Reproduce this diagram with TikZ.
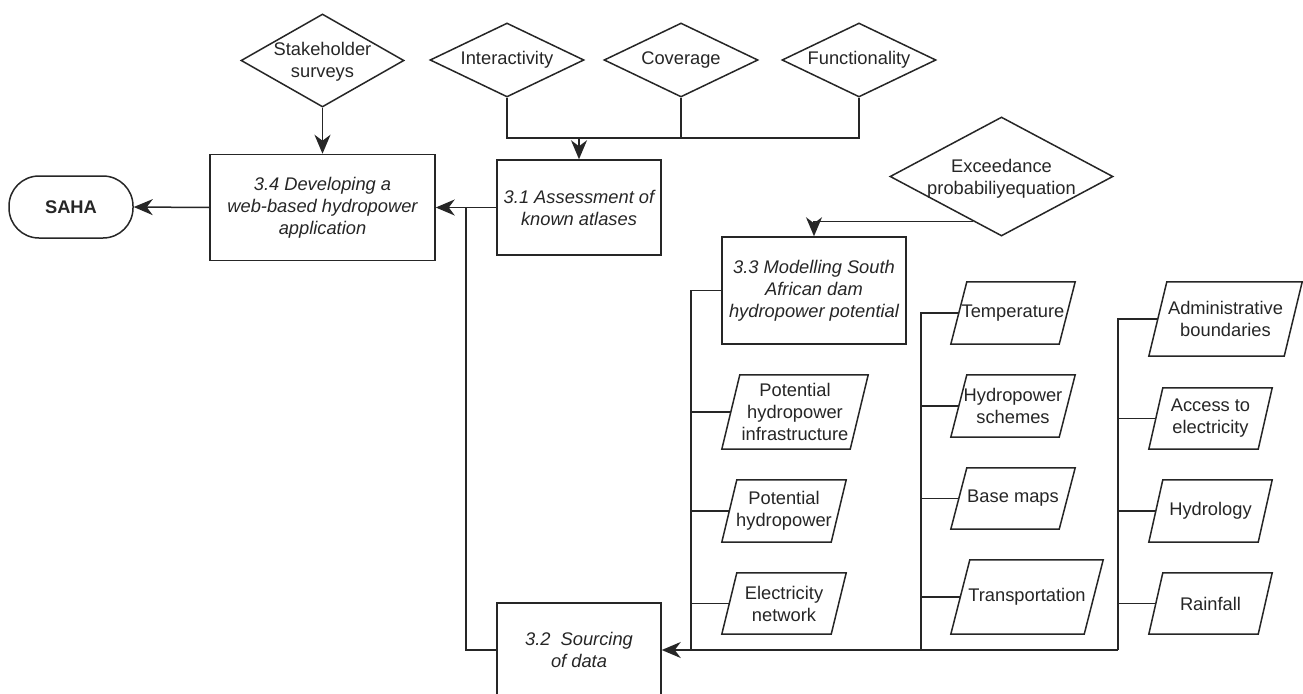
\documentclass[tikz,border=0pt]{standalone}
\usepackage{fontspec}
\setmainfont{Liberation Sans}
\usetikzlibrary{shapes.geometric,arrows.meta,calc}
\colorlet{ink}{black!85}
\tikzset{
  base/.style={font=\fontsize{18.3}{22}\selectfont, text=ink, align=center, inner sep=0pt},
  procbox/.style={base, draw=ink, line width=1.5pt, rectangle, font=\fontsize{18.3}{22}\selectfont\itshape},
  term/.style={base, draw=ink, line width=1.5pt, rectangle, rounded corners=30pt, minimum width=124, minimum height=62},
  dia/.style={diamond, draw=ink, line width=1.5pt, inner sep=0pt},
  paratext/.style={base},
  shapeline/.style={draw=ink, line width=1.5pt, line join=miter},
  conn/.style={draw=ink, line width=1.5pt},
  arr/.style={conn, -{Stealth[length=19pt,width=16pt,inset=6pt]}}
}
\newcommand{\paranode}[7]{%
  \node[paratext, minimum width=#4, minimum height=#5] (#1) at (#2,#3) {#7};
  \draw[shapeline] ([xshift=-#6pt/2]#1.south west) -- ([xshift=#6pt/2]#1.north west) -- ([xshift=#6pt/2]#1.north east) -- ([xshift=-#6pt/2]#1.south east) -- cycle;}
\begin{document}
\begin{tikzpicture}[x=1pt,y=-1pt]
\fill[white] (0,0) rectangle (1303,693);
\useasboundingbox (0,0) rectangle (1303,693);

% process boxes
\node[term] (saha) at (71,207) {\bfseries SAHA};
\node[procbox, minimum width=225, minimum height=106] (a34) at (322.5,207.5) {3.4 Developing a\\web-based hydropower\\application};
\node[procbox, minimum width=164, minimum height=95] (a31) at (579,207.5) {3.1 Assessment of\\known atlases};
\node[procbox, minimum width=164, minimum height=94] (a32) at (579,650) {3.2\ \ Sourcing\\of data};
\node[procbox, minimum width=184, minimum height=107] (a33) at (814,290.5) {3.3 Modelling South\\African dam\\hydropower potential};

% diamonds
\node[dia, minimum width=163, minimum height=93] (stk) at (322.5,60.5) {};
\node[base] (stkt) at (322.5,62) {Stakeholder\\surveys};
\node[dia, minimum width=154, minimum height=74] (int) at (507,60) {};
\node[base] (intt) at (int) {Interactivity};
\node[dia, minimum width=154, minimum height=74] (cov) at (681,60) {};
\node[base] (covt) at (cov) {Coverage};
\node[dia, minimum width=154, minimum height=74] (fun) at (859,60) {};
\node[base] (funt) at (fun) {Functionality};
\node[dia, minimum width=223, minimum height=119] (exc) at (1001.5,176.5) {};
\node[base] (exct) at (1001.5,178.5) {Exceedance\\probabiliyequation};

% data parallelograms
\paranode{phi}{795}{412}{128}{74}{18}{Potential\\hydropower\\infrastructure}
\paranode{ph}{784}{511}{109}{62}{15}{Potential\\hydropower}
\paranode{en}{784}{603.5}{109}{61}{15}{Electricity\\network}
\paranode{tem}{1013}{313}{108}{62}{16}{Temperature}
\paranode{hs}{1013}{406}{108}{62}{16}{Hydropower\\schemes}
\paranode{bm}{1013}{498.5}{108}{61}{16}{Base maps}
\paranode{tr}{1027}{597}{133}{74}{19}{Transportation}
\paranode{adm}{1225.5}{319}{135}{74}{18}{Administrative\\boundaries}
\paranode{acc}{1210.5}{418.5}{109}{61}{14}{Access to\\electricity}
\paranode{hyd}{1210.5}{511}{109}{62}{14}{Hydrology}
\paranode{rain}{1210.5}{603.5}{109}{61}{14}{Rainfall}

% connectors
\coordinate (j) at (579,138);
\draw[conn] (int.south) |- (j) -| (fun.south);
\draw[conn] (cov.south) -- (cov.south |- j);
\draw[arr] (j) -- (a31.north);
\draw[arr] (stk.south) -- (a34.north);
\draw[arr] (a34.west) -- (saha.east);
\draw[arr] (a31.west) -- (a34.east);
\coordinate (k) at (466,207.5);
\draw[conn] (a32.west) -| (k);
\draw[arr] ($(exc.west)!0.75!(exc.south)$) -| (a33.north);

\coordinate (b1) at (691,650);
\coordinate (b2) at (921,650);
\coordinate (b3) at (1118,650);
\draw[arr] (b3) -- (a32.east);
\draw[conn] (a33.west) -| (b1);
\draw[conn] (phi.west) -- (phi.west -| b1);
\draw[conn] (ph.west) -- (ph.west -| b1);
\draw[conn] (en.west) -- (en.west -| b1);
\draw[conn] (tem.west) -| (b2);
\draw[conn] (hs.west) -- (hs.west -| b2);
\draw[conn] (bm.west) -- (bm.west -| b2);
\draw[conn] (tr.west) -- (tr.west -| b2);
\draw[conn] (adm.west) -| (b3);
\draw[conn] (acc.west) -- (acc.west -| b3);
\draw[conn] (hyd.west) -- (hyd.west -| b3);
\draw[conn] (rain.west) -- (rain.west -| b3);
\end{tikzpicture}
\end{document}
